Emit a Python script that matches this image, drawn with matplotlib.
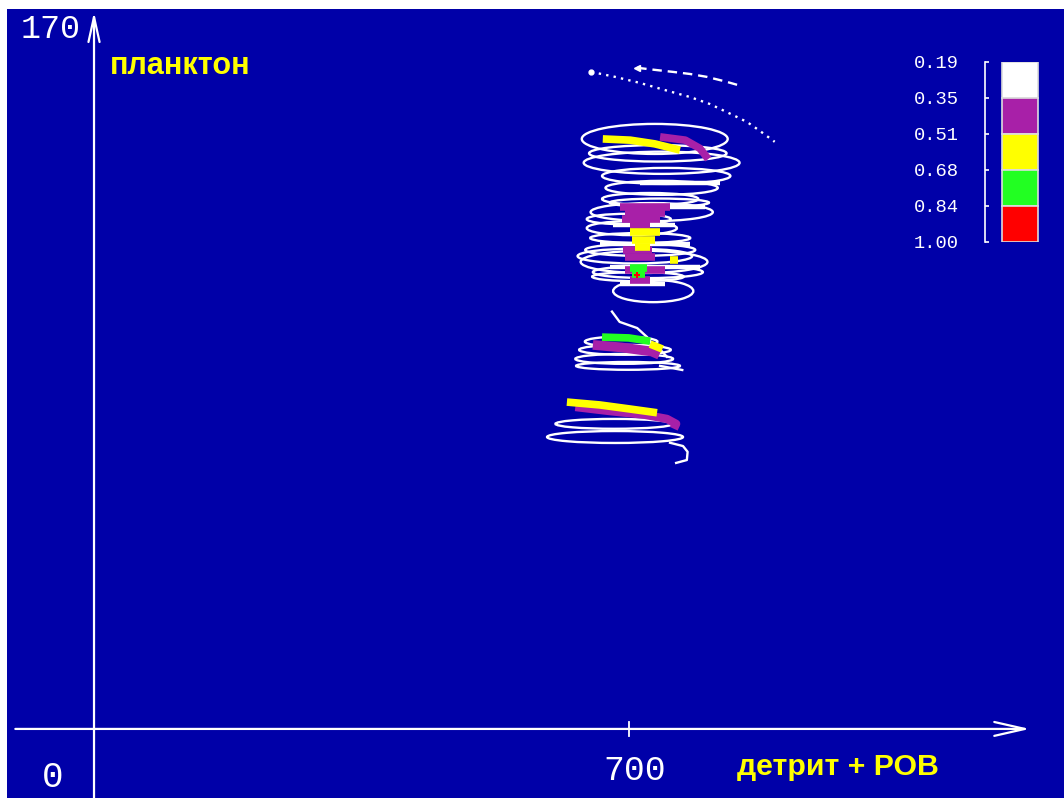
import matplotlib
matplotlib.use("Agg")
import matplotlib.pyplot as plt
from matplotlib.patches import Ellipse

# ---------------------------------------------------------------- data
X_TICK = 700
Y_TOP = 170
X_LABEL = "детрит + РОВ"
Y_LABEL = "планктон"

# levels of the colour scale (top to bottom) and their colours
LEVEL_LABELS = ["0.19", "0.35", "0.51", "0.68", "0.84", "1.00"]
LEVEL_COLORS = ["#FFFFFF", "#A820A8", "#FFFF00", "#22FF22", "#FF0000"]

# trajectory loops: centre x, centre y, width, height (data units)
LOOP_CX = [734, 743, 749, 743, 728, 730, 704, 715, 715, 720, 725, 732,
           738, 700, 708, 712, 740,
           695, 694, 699, 690, 681, 682]
LOOP_CY = [143.5, 137.7, 134.5, 131.6, 128.9, 125.7, 121.8, 119.4, 116.5,
           113.6, 111.1, 106.5,
           140.0, 124.0, 115.0, 110.0, 128.0,
           92.2, 90.0, 88.3, 94.2, 74.2, 71.0]
LOOP_W = [191, 204, 168, 147, 126, 160, 118, 131, 144, 166, 144, 105,
          180, 110, 150, 120, 130,
          120, 128, 136, 95, 154, 178]
LOOP_H = [7.3, 5.4, 3.9, 3.4, 2.9, 4.4, 3.4, 2.4, 2.9, 5.4, 2.9, 5.4,
          4.0, 2.6, 3.6, 2.2, 2.0,
          2.4, 2.4, 1.9, 2.4, 2.4, 2.9]

# connecting pieces of the trajectory
NECK_X = [678, 688, 711, 724, 730, 738, 750]
NECK_Y = [101.5, 99.0, 97.5, 95.3, 93.9, 92.9, 90.5]
TAIL4_X = [741, 770]
TAIL4_Y = [88.3, 87.3]
TAIL5_X = [754, 771, 777, 776, 762]
TAIL5_Y = [69.6, 68.8, 67.4, 65.4, 64.7]

# dense white strokes in the core of the attractor
CORE_X0 = [715, 702, 662, 675, 688, 680]
CORE_X1 = [819, 800, 780, 793, 747, 760]
CORE_Y = [132.8, 127.0, 118.0, 112.4, 108.2, 122.5]

# initial transient (dotted) and first pass (dashed)
DOT_X = [651, 682, 715, 747, 780, 806, 823, 842, 855, 872, 891]
DOT_Y = [159.8, 158.6, 157.1, 155.4, 153.7, 152.0, 150.5, 148.8, 147.6,
         145.4, 142.8]
DASH_X = [711, 734, 758, 780, 802, 826, 843]
DASH_Y = [160.8, 160.3, 159.8, 159.3, 158.6, 157.5, 156.6]

# coloured (level-coded) parts of the trajectory
YEL_TOP_X = [666, 702, 734, 767]
YEL_TOP_Y = [143.5, 143.2, 142.3, 140.8]
MAG_TOP_X = [741, 774, 793, 804]
MAG_TOP_Y = [144.0, 143.2, 141.2, 138.6]

MAG_CORE_X0 = [688, 695, 691, 702, 692, 695, 702, 695]
MAG_CORE_X1 = [754, 747, 741, 728, 731, 734, 728, 747]
MAG_CORE_Y = [127.0, 125.5, 124.0, 122.6, 116.5, 114.8, 109.2, 111.6]
YEL_CORE_X0 = [702, 704, 708, 754]
YEL_CORE_X1 = [741, 734, 728, 764]
YEL_CORE_Y = [120.9, 118.9, 117.2, 114.1]
GRN_CORE_X0 = [702, 704]
GRN_CORE_X1 = [724, 721]
GRN_CORE_Y = [112.1, 110.6]
RED_POINT = (711, 110.4)

GRN_MID_X = [665, 700, 728]
GRN_MID_Y = [95.3, 95.1, 94.3]
MAG_MID_X = [653, 690, 730, 740]
MAG_MID_Y = [93.4, 92.8, 91.8, 91.0]
YEL_MID_X = [728, 744]
YEL_MID_Y = [93.6, 92.4]

YEL_LOW_X = [619, 662, 702, 737]
YEL_LOW_Y = [79.5, 78.8, 77.8, 76.9]
MAG_LOW_X = [630, 675, 721, 750, 762, 759]
MAG_LOW_Y = [78.3, 77.3, 76.4, 75.4, 74.2, 73.0]

# ---------------------------------------------------------------- style
BG = "#0000A8"
WHITE = "#FFFFFF"
MAGENTA = LEVEL_COLORS[1]
YELLOW = LEVEL_COLORS[2]
GREEN = LEVEL_COLORS[3]
RED = LEVEL_COLORS[4]
MONO = "Liberation Mono"
LW = 1.7

fig = plt.figure(figsize=(10.64, 7.98), dpi=100, facecolor="white")
ax = fig.add_axes([7 / 1064, 0, 1057 / 1064, 789 / 798])
ax.set_facecolor(BG)
ax.set_xlim(-113.9, 1269.7)
ax.set_ylim(-16.8, 175.1)
for sp in ax.spines.values():
    sp.set_visible(False)
ax.set_xticks([])
ax.set_yticks([])

# axes with arrows
arrow = dict(arrowstyle="->,head_length=1.1,head_width=0.25", lw=1.6,
             color=WHITE, mutation_scale=20, shrinkA=0, shrinkB=0)
ax.annotate("", xy=(1225, 0), xytext=(-103, 0), arrowprops=arrow)
yarrow = dict(arrowstyle="->,head_length=0.9,head_width=0.2", lw=1.6,
              color=WHITE, mutation_scale=20, shrinkA=0, shrinkB=0)
ax.annotate("", xy=(0, 174.4), xytext=(0, -16.8), arrowprops=yarrow)
ax.plot([X_TICK, X_TICK], [-1.6, 1.6], color=WHITE, lw=1.3)

ax.text(-57, Y_TOP, str(Y_TOP), color=WHITE, fontsize=24, family=MONO,
        ha="center", va="center")
ax.text(-54, -11.7, "0", color=WHITE, fontsize=26, family=MONO,
        ha="center", va="center")
ax.text(X_TICK + 8, -10.2, str(X_TICK), color=WHITE, fontsize=25,
        family=MONO, ha="center", va="center")
ax.text(21, 161.2, Y_LABEL, color="#FFFF00", fontsize=22,
        family="Liberation Sans", weight="bold", ha="left", va="center")
ax.text(842, -9.2, X_LABEL, color="#FFFF00", fontsize=21.8,
        family="Liberation Sans", weight="bold", ha="left", va="center")

# transient parts
ax.plot(DOT_X, DOT_Y, color=WHITE, lw=LW, linestyle=(0, (1, 2.2)))
ax.plot(DOT_X[0], DOT_Y[0], marker="o", ms=3.5, color=WHITE)
ax.plot(DASH_X, DASH_Y, color=WHITE, lw=LW, linestyle=(0, (4, 2.5)))
ax.plot(DASH_X[0], DASH_Y[0], marker="<", ms=4.5, color=WHITE)

# trajectory loops
for cx, cy, w, h in zip(LOOP_CX, LOOP_CY, LOOP_W, LOOP_H):
    ax.add_patch(Ellipse((cx, cy), w, h, fill=False, ec=WHITE, lw=LW))
ax.plot(NECK_X, NECK_Y, color=WHITE, lw=LW)
ax.plot(TAIL4_X, TAIL4_Y, color=WHITE, lw=LW)
ax.plot(TAIL5_X, TAIL5_Y, color=WHITE, lw=LW)
for x0, x1, y in zip(CORE_X0, CORE_X1, CORE_Y):
    ax.plot([x0, x1], [y, y], color=WHITE, lw=3.2, solid_capstyle="butt")

# level-coded parts
thick = dict(lw=5.5, solid_capstyle="butt", solid_joinstyle="round")
ax.plot(YEL_TOP_X, YEL_TOP_Y, color=YELLOW, **thick)
ax.plot(MAG_TOP_X, MAG_TOP_Y, color=MAGENTA, **thick)
for x0, x1, y in zip(MAG_CORE_X0, MAG_CORE_X1, MAG_CORE_Y):
    ax.plot([x0, x1], [y, y], color=MAGENTA, **thick)
for x0, x1, y in zip(YEL_CORE_X0, YEL_CORE_X1, YEL_CORE_Y):
    ax.plot([x0, x1], [y, y], color=YELLOW, **thick)
for x0, x1, y in zip(GRN_CORE_X0, GRN_CORE_X1, GRN_CORE_Y):
    ax.plot([x0, x1], [y, y], color=GREEN, **thick)
ax.plot(*RED_POINT, marker="+", ms=5, mew=1.5, color=RED)
ax.plot(MAG_MID_X, MAG_MID_Y, color=MAGENTA, lw=7, solid_capstyle="butt")
ax.plot(GRN_MID_X, GRN_MID_Y, color=GREEN, **thick)
ax.plot(YEL_MID_X, YEL_MID_Y, color=YELLOW, **thick)
ax.plot(MAG_LOW_X, MAG_LOW_Y, color=MAGENTA, lw=6, solid_capstyle="butt")
ax.plot(YEL_LOW_X, YEL_LOW_Y, color=YELLOW, **thick)

# colour scale
cax = fig.add_axes([985 / 1064, 1 - 242 / 798, 55 / 1064, 180 / 798])
cax.set_facecolor("none")
cax.set_xlim(0, 1)
cax.set_ylim(len(LEVEL_COLORS), 0)
for name in ("top", "right", "bottom"):
    cax.spines[name].set_visible(False)
cax.spines["left"].set_color(WHITE)
cax.spines["left"].set_linewidth(1.2)
cax.set_xticks([])
cax.set_yticks(range(len(LEVEL_LABELS)))
cax.set_yticklabels(LEVEL_LABELS, family=MONO, fontsize=13.5, color=WHITE)
cax.tick_params(axis="y", direction="in", length=3, width=1.2, color=WHITE,
                pad=19)
for i, c in enumerate(LEVEL_COLORS):
    cax.bar(0.636, 1, width=0.655, bottom=i, color=c, edgecolor="#DDDDDD",
            lw=1.2)

fig.savefig("out.png", dpi=100, facecolor=fig.get_facecolor())
